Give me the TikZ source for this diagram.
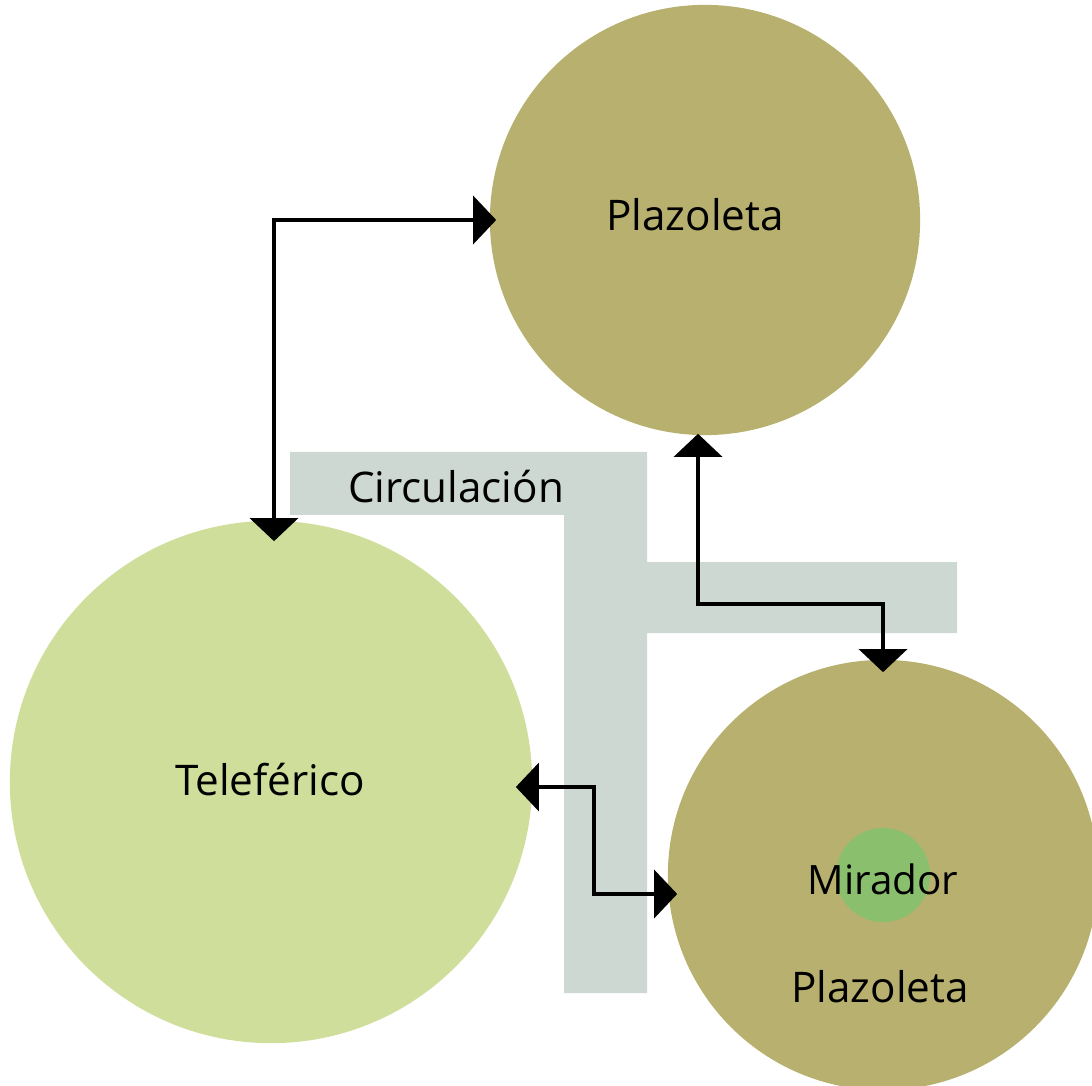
\documentclass[tikz,border=0pt]{standalone}
\usepackage{fontspec}
\setmainfont{Open Sans}
\usetikzlibrary{arrows.meta}

\definecolor{plazacol}{HTML}{B8B06E}
\definecolor{telecol}{HTML}{D0DE9B}
\definecolor{mircol}{HTML}{8ABF6D}
\definecolor{circcol}{HTML}{CED8D3}

\begin{document}
\begin{tikzpicture}[x=0.01cm, y=-0.01cm,
    zone/.style={circle, inner sep=0pt},
    txt/.style={inner sep=0pt, font=\fontsize{12}{14}\selectfont},
    link/.style={line width=0.035cm,
        {Triangle[length=0.23cm,width=0.48cm]}-{Triangle[length=0.23cm,width=0.48cm]}}]
        \useasboundingbox (0,0) rectangle (1092,1086);
        \clip (0,0) rectangle (1092,1086);

        % circulacion
        \fill[circcol] (290,452) -- (647,452) -- (647,562) -- (957,562) -- (957,633)
            -- (647,633) -- (647,993) -- (564,993) -- (564,515) -- (290,515) -- cycle;
        \node[txt] (circ) at (456,487) {Circulación};

        \node[zone, fill=plazacol, minimum size=4.3cm] (plazaA) at (705,220) {};
        \node[txt] (plazaAtxt) at (695,215) {Plazoleta};
        \node[zone, fill=telecol, minimum size=5.22cm] (tele) at (271,782) {};
        \node[txt] (teletxt) at (270,780) {Teleférico};
        \node[zone, fill=plazacol, minimum size=4.3cm] (plazaB) at (883,875) {};
        \node[zone, fill=mircol, minimum size=0.94cm] (mir) at (plazaB) {};
        \node[txt, font=\fontsize{11.5}{14}\selectfont] (mirtxt) at (883,879) {Mirador};
        \node[txt] (plazaBtxt) at (880,987) {Plazoleta};

        \draw[link, shorten <=-0.21cm, shorten >=-0.07cm]
            ([shift={(3,0)}]tele.north) |- (plazaA.west);
        \draw[link, shorten <=-0.02cm, shorten >=-0.13cm]
            ([shift={(-7,0)}]plazaA.south) -- ++(0,168) -| (plazaB.north);
        \draw[link, shorten <=-0.17cm, shorten >=-0.10cm]
            ([shift={(0,5)}]tele.east) -| ++(61,107) -- ([shift={(0,19)}]plazaB.west);
    \end{tikzpicture}
\end{document}
